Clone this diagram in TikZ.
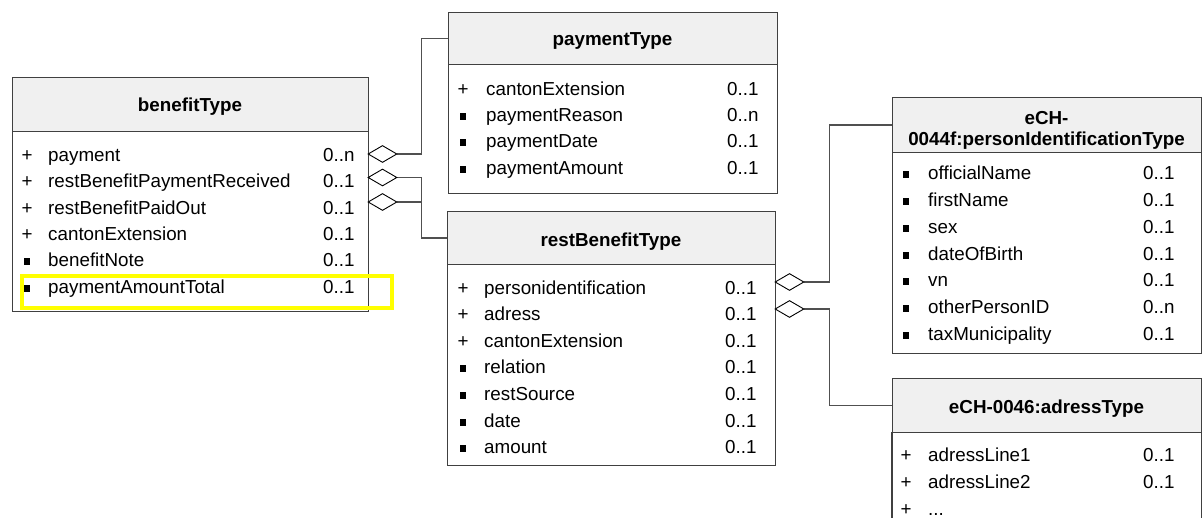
\documentclass[tikz,border=0pt]{standalone}
\usepackage{fontspec}
\setmainfont{Liberation Sans}
\usetikzlibrary{shapes.geometric}
\definecolor{hdr}{HTML}{F0F0F0}
\definecolor{bord}{HTML}{404040}
\definecolor{conn}{HTML}{505050}
\definecolor{hl}{HTML}{FFFF00}
\newcommand\bsq{\rule[\dimexpr0.5ex-3.5pt\relax]{6pt}{7pt}}
\newcommand\umlrow[8]{%
  \node[txt, anchor=mid] (#8s) at (#1,#4+4) {#5};
  \node[txt, anchor=mid west] (#8n) at (#2,#4+4) {#6};
  \node[txt, anchor=mid west] (#8m) at (#3,#4+4) {#7};}
\tikzset{
  txt/.style={inner sep=0pt, font=\fontsize{18.8}{21}\selectfont},
  ttl/.style={inner sep=0pt, font=\fontsize{18.8}{21}\selectfont\bfseries},
  hbox/.style={draw=bord, fill=hdr, line width=1.2pt, anchor=north west, inner sep=0pt},
  bbox/.style={draw=bord, fill=white, line width=1.2pt, anchor=north west, inner sep=0pt},
  dia/.style={diamond, draw=black, fill=white, line width=0.9pt, minimum width=29pt, minimum height=17pt, inner sep=0pt},
  cn/.style={draw=conn, line width=1.2pt},
}
\begin{document}
\begin{tikzpicture}[x=1pt, y=-1pt]
\useasboundingbox (0,0) rectangle (1202,518);

% connector anchors
\node[dia, draw=none, fill=none] (d1) at (382.5,154) {};
\node[dia, draw=none, fill=none] (d2) at (382.5,177.5) {};
\node[dia, draw=none, fill=none] (d3) at (382.5,202) {};
\node[dia, draw=none, fill=none] (e1) at (789.5,282) {};
\node[dia, draw=none, fill=none] (e2) at (789.5,309) {};

% benefitType
\node[hbox, minimum width=356pt, minimum height=54pt] (bH) at (12,77) {};
\node[bbox, minimum width=356pt, minimum height=180pt] (bB) at (12,131) {};
\node[ttl, anchor=mid] (bT) at (190,109) {benefitType};
\umlrow{27}{48}{323}{155}{+}{payment}{0..n}{b1}
\umlrow{27}{48}{323}{181}{+}{restBenefitPaymentReceived}{0..1}{b2}
\umlrow{27}{48}{323}{208}{+}{restBenefitPaidOut}{0..1}{b3}
\umlrow{27}{48}{323}{234}{+}{cantonExtension}{0..1}{b4}
\umlrow{27}{48}{323}{260}{\bsq}{benefitNote}{0..1}{b5}
\umlrow{27}{48}{323}{287}{\bsq}{paymentAmountTotal}{0..1}{b6}
\node[draw=hl, line width=4pt, minimum width=370pt, minimum height=32pt, anchor=north west, inner sep=0pt] (hlbox) at (20,274) {};

% paymentType
\node[hbox, minimum width=329pt, minimum height=52pt] (pH) at (448,12) {};
\node[bbox, minimum width=329pt, minimum height=129pt] (pB) at (448,64) {};
\node[ttl, anchor=mid] (pT) at (612.5,43) {paymentType};
\umlrow{463}{486}{727}{89}{+}{cantonExtension}{0..1}{p1}
\umlrow{463}{486}{727}{115}{\bsq}{paymentReason}{0..n}{p2}
\umlrow{463}{486}{727}{141}{\bsq}{paymentDate}{0..1}{p3}
\umlrow{463}{486}{727}{168}{\bsq}{paymentAmount}{0..1}{p4}

% restBenefitType
\node[hbox, minimum width=328pt, minimum height=53pt] (rH) at (447,211) {};
\node[bbox, minimum width=328pt, minimum height=201pt] (rB) at (447,264) {};
\node[ttl, anchor=mid] (rT) at (611,244) {restBenefitType};
\umlrow{463}{484}{725}{288}{+}{personidentification}{0..1}{r1}
\umlrow{463}{484}{725}{314}{+}{adress}{0..1}{r2}
\umlrow{463}{484}{725}{341}{+}{cantonExtension}{0..1}{r3}
\umlrow{463}{484}{725}{367}{\bsq}{relation}{0..1}{r4}
\umlrow{463}{484}{725}{394}{\bsq}{restSource}{0..1}{r5}
\umlrow{463}{484}{725}{421}{\bsq}{date}{0..1}{r6}
\umlrow{463}{484}{725}{447}{\bsq}{amount}{0..1}{r7}

% eCH-0044f:personIdentificationType
\node[hbox, minimum width=309pt, minimum height=55pt] (iH) at (892,97) {};
\node[bbox, minimum width=309pt, minimum height=201pt] (iB) at (892,152) {};
\node[ttl, align=center] (iT) at (1046.5,130.5) {eCH-\\0044f:personIdentificationType};
\umlrow{906}{928}{1143}{173}{\bsq}{officialName}{0..1}{i1}
\umlrow{906}{928}{1143}{200}{\bsq}{firstName}{0..1}{i2}
\umlrow{906}{928}{1143}{227}{\bsq}{sex}{0..1}{i3}
\umlrow{906}{928}{1143}{254}{\bsq}{dateOfBirth}{0..1}{i4}
\umlrow{906}{928}{1143}{280}{\bsq}{vn}{0..1}{i5}
\umlrow{906}{928}{1143}{307}{\bsq}{otherPersonID}{0..n}{i6}
\umlrow{906}{928}{1143}{334}{\bsq}{taxMunicipality}{0..1}{i7}

% eCH-0046:adressType
\node[hbox, minimum width=309pt, minimum height=54pt] (aH) at (892,378) {};
\node[anchor=north west, inner sep=0pt, minimum width=309pt, minimum height=86pt] (aB) at (892,432) {};
\draw[draw=bord, line width=1.2pt] (aB.north west) -- (aB.south west) (aB.north east) -- (aB.south east);
\node[ttl, anchor=mid] (aT) at (1046.5,411) {eCH-0046:adressType};
\umlrow{906}{928}{1143}{455}{+}{adressLine1}{0..1}{a1}
\umlrow{906}{928}{1143}{482}{+}{adressLine2}{0..1}{a2}
\node[txt, anchor=mid] (a3s) at (906,513) {+};
\node[txt, anchor=mid west] (a3n) at (928,513) {...};

% connectors
\draw[cn] (d1.east) -- ++(24,0) |- (pH.west);
\draw[cn] (d2.east) -- ++(24,0) |- (rH.west);
\draw[cn] (d3.east) -- ++(24,0);
\draw[cn] (e1.east) -- ++(25,0) |- (iH.west);
\draw[cn] (e2.east) -- ++(25,0) |- (aH.west);

% aggregation diamonds
\node[dia] (d1v) at (d1) {};
\node[dia] (d2v) at (d2) {};
\node[dia] (d3v) at (d3) {};
\node[dia] (e1v) at (e1) {};
\node[dia] (e2v) at (e2) {};
\end{tikzpicture}
\end{document}
